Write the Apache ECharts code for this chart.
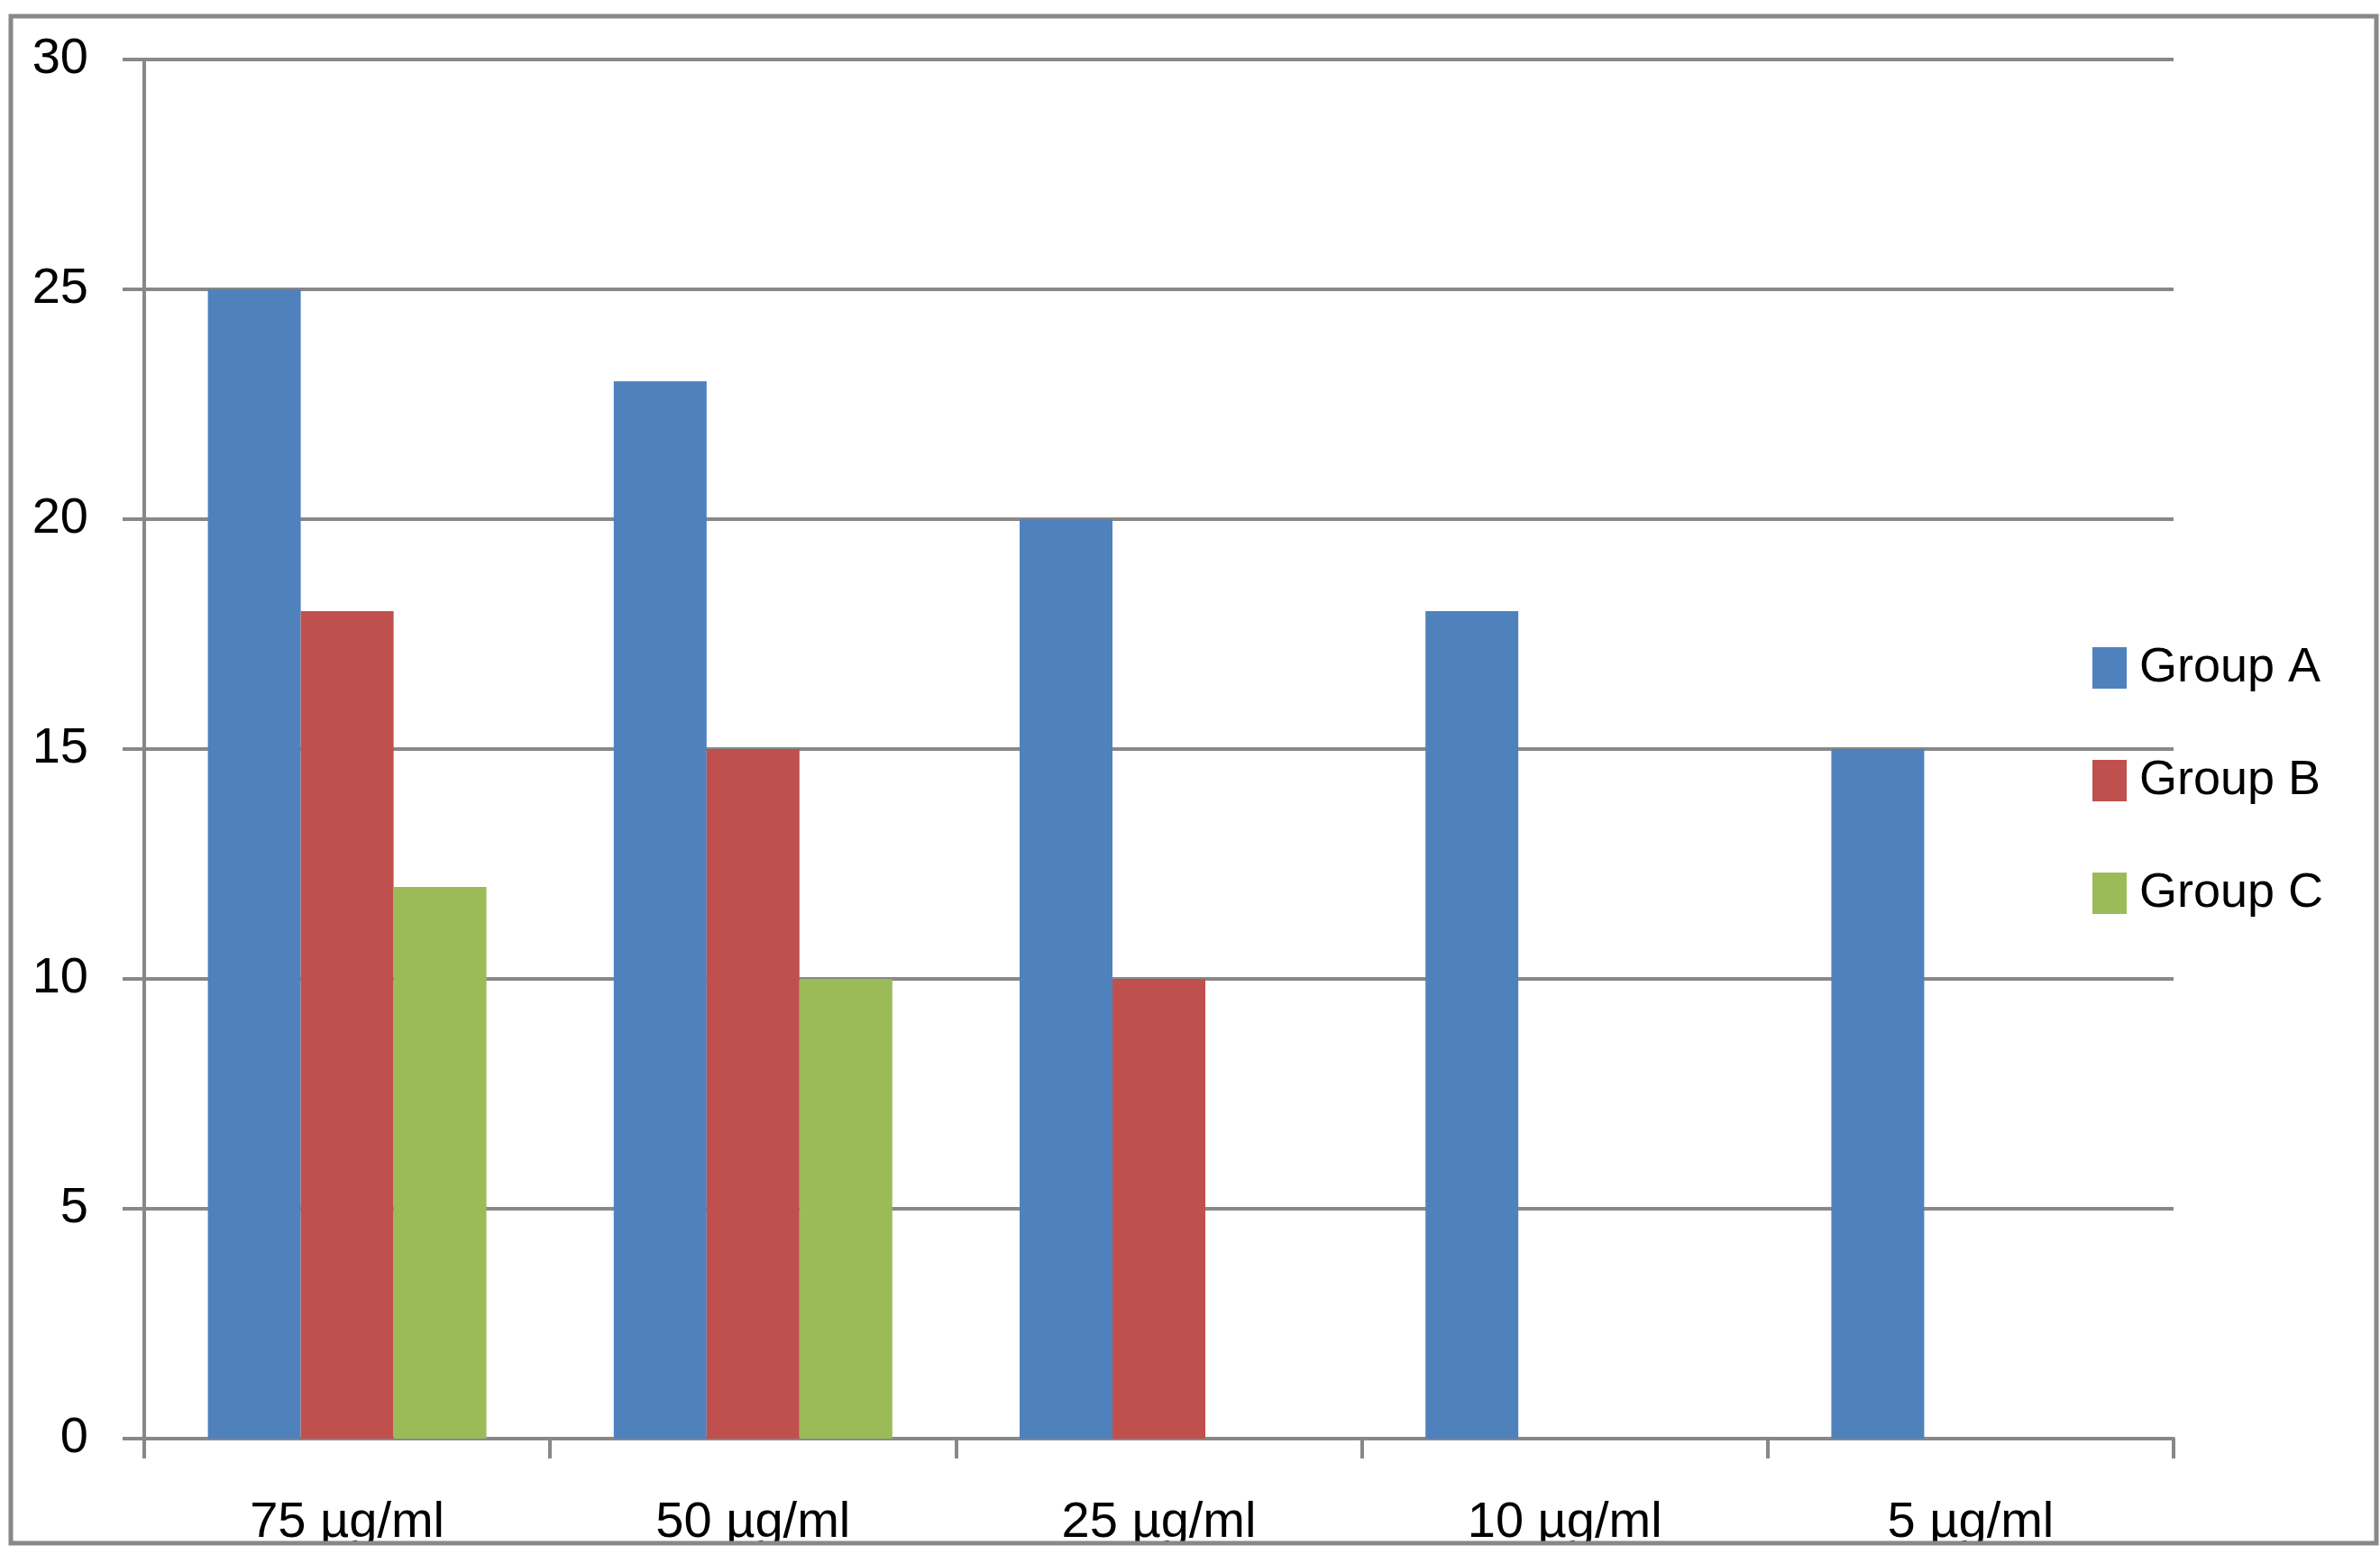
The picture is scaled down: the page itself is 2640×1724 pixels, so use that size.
<!DOCTYPE html>
<html>
<head>
<meta charset="utf-8">
<script src="https://cdn.jsdelivr.net/npm/echarts@6/dist/echarts.min.js"></script>
<style>html,body{margin:0;padding:0;background:#fff;}#c{width:2640px;height:1724px;}</style>
</head>
<body>
<div id="c"></div>
<script>
const categories = ['75 µg/ml', '50 µg/ml', '25 µg/ml', '10 µg/ml', '5 µg/ml'];
const groupA = [25, 23, 20, 18, 15];
const groupB = [18, 15, 10, 0, 0];
const groupC = [12, 10, 0, 0, 0];
const seriesNames = ['Group A', 'Group B', 'Group C'];
const colors = ['#4F81BD', '#C0504D', '#9BBB59'];

const FONT = '"Liberation Sans", Arial, sans-serif';
const chart = echarts.init(document.getElementById('c'));
chart.setOption({
  animation: false,
  backgroundColor: '#fff',
  color: colors,
  grid: { left: 160, right: 229, top: 66, bottom: 128 },
  legend: {
    orient: 'vertical',
    left: 2316,
    top: 709,
    itemWidth: 38,
    itemHeight: 46,
    itemGap: 71,
    icon: 'rect',
    textStyle: { fontFamily: FONT, fontSize: 54, color: '#000', lineHeight: 46, padding: [0, 0, 0, 9] },
    data: seriesNames
  },
  xAxis: {
    type: 'category',
    data: categories,
    axisLine: { lineStyle: { color: '#888', width: 4 } },
    axisTick: { show: true, length: 22, lineStyle: { color: '#888', width: 4 } },
    axisLabel: { fontFamily: FONT, fontSize: 56, color: '#000', margin: 66 }
  },
  yAxis: {
    type: 'value',
    min: 0, max: 30, interval: 5,
    axisLine: { show: true, lineStyle: { color: '#888', width: 4 } },
    axisTick: { show: true, length: 24, lineStyle: { color: '#888', width: 4 } },
    splitLine: { show: true, lineStyle: { color: '#888', width: 4 } },
    axisLabel: { fontFamily: FONT, fontSize: 56, color: '#000', margin: 62 }
  },
  series: [
    { name: seriesNames[0], type: 'bar', data: groupA, barWidth: 103, barGap: '0%' },
    { name: seriesNames[1], type: 'bar', data: groupB, barWidth: 103, barGap: '0%' },
    { name: seriesNames[2], type: 'bar', data: groupC, barWidth: 103, barGap: '0%' }
  ],
  graphic: [
    { type: 'rect', z: 100, shape: { x: 0, y: 1712, width: 2640, height: 12 }, style: { fill: '#fff' } },
    { type: 'rect', z: 101, shape: { x: 12, y: 18, width: 2624, height: 1694 }, style: { fill: 'none', stroke: '#888', lineWidth: 5 } }
  ]
});
</script>
</body>
</html>
